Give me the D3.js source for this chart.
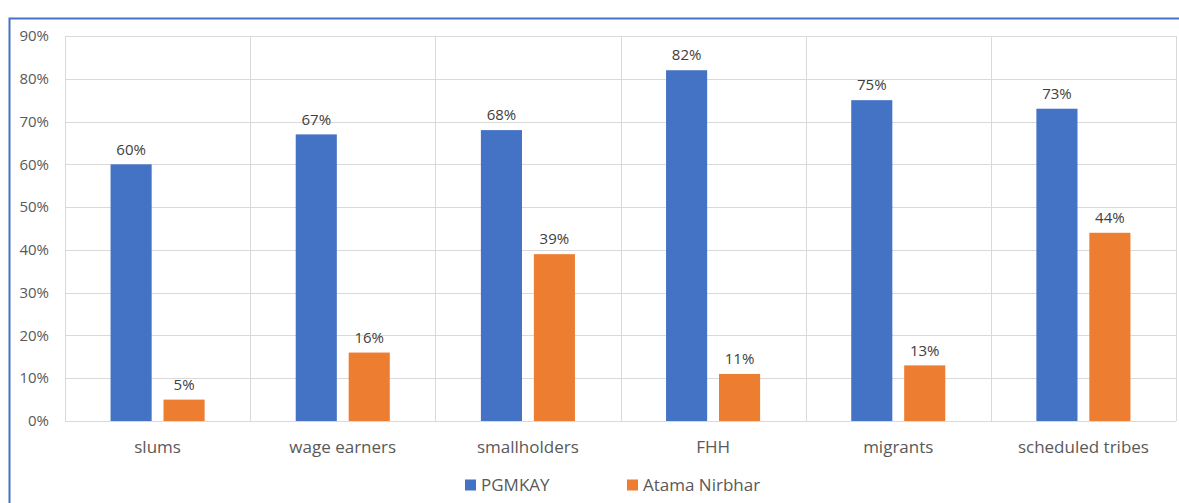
<!DOCTYPE html>
<meta charset="utf-8">
<style>
body { margin: 0; background: #fff; font-family: "Open Sans", sans-serif; }
.grid line { stroke: #d9d9d9; stroke-width: 1px; }
</style>
<body>
<script src="https://d3js.org/d3.v7.min.js"></script>
<script>
// chart data
var categories = ["slums", "wage earners", "smallholders", "FHH", "migrants", "scheduled tribes"];
var seriesNames = ["PGMKAY", "Atama Nirbhar"];
var pgmkay = [60, 67, 68, 82, 75, 73];
var atamaNirbhar = [5, 16, 39, 11, 13, 44];
var yTicks = [0, 10, 20, 30, 40, 50, 60, 70, 80, 90];
var colors = ["#4472c4", "#ed7d31"];

var width = 1179, height = 503;
var plot = {left: 65, right: 1176, top: 36, bottom: 421};

var svg = d3.select("body").append("svg")
    .attr("width", width)
    .attr("height", height);

// blue frame (top + left edge)
svg.append("path")
    .attr("d", "M9.5," + height + "V18.5H" + width)
    .attr("fill", "none")
    .attr("stroke", "#4472c4")
    .attr("stroke-width", 2);

var x = d3.scaleBand()
    .domain(categories)
    .range([plot.left, plot.right]);

var y = d3.scaleLinear()
    .domain([0, 90])
    .range([plot.bottom, plot.top]);

// horizontal gridlines
var grid = svg.append("g").attr("class", "grid");
grid.selectAll(".h")
    .data(yTicks)
    .enter().append("line")
    .attr("x1", plot.left).attr("x2", plot.right)
    .attr("y1", function (d) { return Math.round(y(d)) + 0.5; })
    .attr("y2", function (d) { return Math.round(y(d)) + 0.5; });

// vertical gridlines at category boundaries
var bounds = categories.map(function (c) { return x(c); }).concat([plot.right]);
grid.selectAll(".v")
    .data(bounds)
    .enter().append("line")
    .attr("x1", function (d) { return Math.round(d) + 0.5; })
    .attr("x2", function (d) { return Math.round(d) + 0.5; })
    .attr("y1", plot.top).attr("y2", plot.bottom);

// y axis labels
svg.append("g")
    .selectAll("text")
    .data(yTicks)
    .enter().append("text")
    .attr("x", 49)
    .attr("y", function (d) { return y(d); })
    .attr("dy", "0.35em")
    .attr("text-anchor", "end")
    .attr("fill", "#595959")
    .style("font-size", "15px")
    .text(function (d) { return d + "%"; });

// category labels
svg.append("g")
    .selectAll("text")
    .data(categories)
    .enter().append("text")
    .attr("x", function (d) { return x(d) + x.bandwidth() / 2; })
    .attr("y", 447)
    .attr("dy", "0.35em")
    .attr("text-anchor", "middle")
    .attr("fill", "#595959")
    .style("font-size", "17px")
    .text(function (d) { return d; });

// bars
var bw = x.bandwidth() * 0.222;
var gap = x.bandwidth() * 0.032;
var series = [pgmkay, atamaNirbhar];

series.forEach(function (vals, si) {
    var g = svg.append("g");
    var offset = si === 0 ? -gap - bw : gap;
    g.selectAll("rect")
        .data(categories)
        .enter().append("rect")
        .attr("x", function (d) { return x(d) + x.bandwidth() / 2 + offset; })
        .attr("y", function (d, i) { return y(vals[i]); })
        .attr("width", bw)
        .attr("height", function (d, i) { return y(0) - y(vals[i]); })
        .attr("fill", colors[si]);

    g.selectAll("text")
        .data(categories)
        .enter().append("text")
        .attr("x", function (d) { return x(d) + x.bandwidth() / 2 + offset + bw / 2; })
        .attr("y", function (d, i) { return y(vals[i]) - 15; })
        .attr("dy", "0.35em")
        .attr("text-anchor", "middle")
        .attr("fill", "#404040")
        .style("font-size", "15px")
        .text(function (d, i) { return vals[i] + "%"; });
});

// legend
var legendX = [465, 627];
var legend = svg.append("g")
    .selectAll("g")
    .data(seriesNames)
    .enter().append("g")
    .attr("transform", function (d, i) { return "translate(" + legendX[i] + ",485)"; });

legend.append("rect")
    .attr("x", 0).attr("y", -5.5)
    .attr("width", 11).attr("height", 11)
    .attr("fill", function (d, i) { return colors[i]; });

legend.append("text")
    .attr("x", 16)
    .attr("dy", "0.35em")
    .attr("fill", "#595959")
    .style("font-size", "17px")
    .text(function (d) { return d; });
</script>
</body>
